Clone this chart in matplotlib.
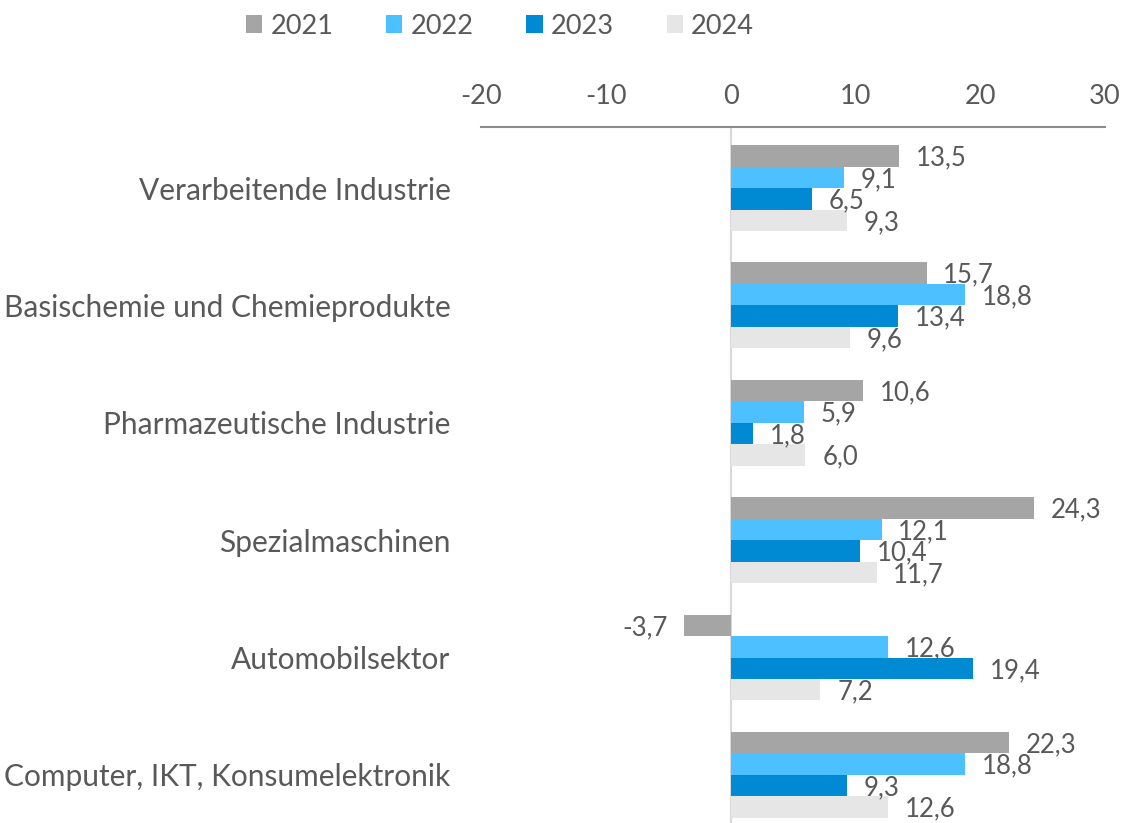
import matplotlib
matplotlib.use("Agg")
import matplotlib.pyplot as plt
from matplotlib.patches import Patch
import numpy as np

plt.rcParams["font.family"] = ["Lato", "DejaVu Sans"]

CATEGORIES = [
    "Verarbeitende Industrie",
    "Basischemie und Chemieprodukte",
    "Pharmazeutische Industrie",
    "Spezialmaschinen",
    "Automobilsektor",
    "Computer, IKT, Konsumelektronik",
]
YEARS = ["2021", "2022", "2023", "2024"]
V2021 = [13.5, 15.7, 10.6, 24.3, -3.7, 22.3]
V2022 = [9.1, 18.8, 5.9, 12.1, 12.6, 18.8]
V2023 = [6.5, 13.4, 1.8, 10.4, 19.4, 9.3]
V2024 = [9.3, 9.6, 6.0, 11.7, 7.2, 12.6]
XTICKS = [-20, -10, 0, 10, 20, 30]

COLORS = ["#A5A5A5", "#4DC0FF", "#008AD3", "#E6E6E6"]
TEXT = "#595959"
FS = 19.5      # ticks, legend
FS_LAB = 18.5  # bar labels
FS_CAT = 21.5  # category labels

fig = plt.figure(figsize=(11.23, 8.23), dpi=100)
ax = fig.add_axes([0.4283, 0.0, 0.9840 - 0.4283, 1 - 127 / 823])

y = np.arange(len(CATEGORIES))
h = 0.183
series = [V2021, V2022, V2023, V2024]
for i, (vals, col) in enumerate(zip(series, COLORS)):
    pos = y + (i - 1.5) * h
    ax.barh(pos, vals, height=h, color=col, linewidth=0, zorder=2)
    for p, v in zip(pos, vals):
        lab = f"{v:.1f}".replace(".", ",")
        if v >= 0:
            ax.annotate(lab, (v, p), xytext=(12, -1.5), textcoords="offset points",
                        ha="left", va="center", fontsize=FS_LAB, color=TEXT)
        else:
            ax.annotate(lab, (v, p), xytext=(-12, -1.5), textcoords="offset points",
                        ha="right", va="center", fontsize=FS_LAB, color=TEXT)

ax.axvline(0, color="#D9D9D9", linewidth=1.5, zorder=1)

ax.set_xlim(-20, 30)
ax.set_ylim(5.41, -0.52)
ax.set_xticks(XTICKS)
ax.set_xticklabels([str(t) for t in XTICKS])
ax.xaxis.tick_top()
ax.tick_params(axis="x", length=0, pad=13, labelsize=FS, labelcolor=TEXT)
ax.set_yticks(y)
ax.set_yticklabels(CATEGORIES)
ax.tick_params(axis="y", length=0, pad=22, labelsize=FS_CAT, labelcolor=TEXT)

for s in ["bottom", "left", "right"]:
    ax.spines[s].set_visible(False)
ax.spines["top"].set_color("#8C8C8C")
ax.spines["top"].set_linewidth(1.5)

handles = [Patch(facecolor=c, edgecolor="none") for c in COLORS]
fig.legend(handles, YEARS, loc="center", bbox_to_anchor=(500 / 1123, 1 - 26 / 823), ncol=4,
           frameon=False, fontsize=FS, labelcolor=TEXT, handlelength=0.6,
           handleheight=0.6, handletextpad=0.3, columnspacing=1.95)

fig.savefig("out.png", dpi=100)
